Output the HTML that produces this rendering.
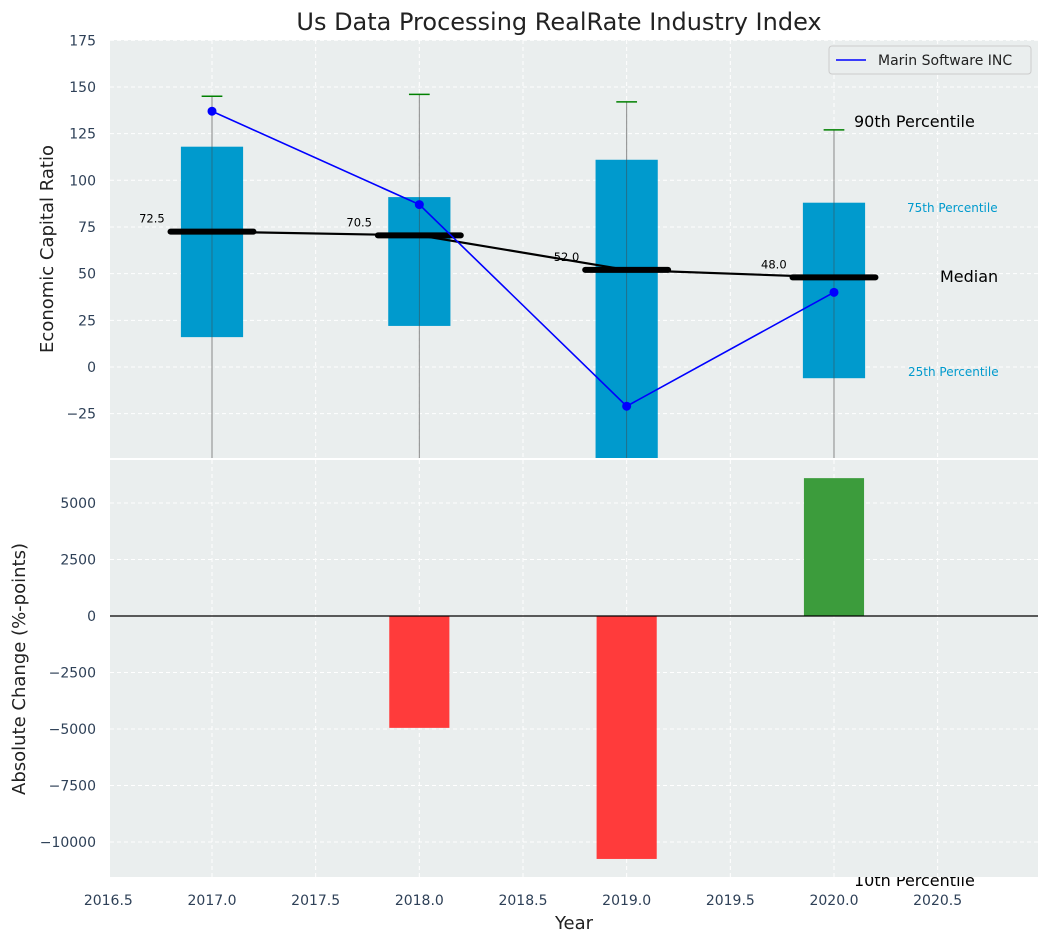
<!DOCTYPE html>
<html><head><meta charset="utf-8"><style>
html,body{margin:0;padding:0;background:#fff;}
svg{display:block;font-family:"DejaVu Sans","Liberation Sans",sans-serif;}
</style></head><body>
<svg id="c" width="1048" height="942"></svg>
<script>
const years=[2017,2018,2019,2020];
const p10=[-60,-60,-60,-60];
const p25=[16,22,-55,-6];
const p75=[118,91,111,88];
const p90=[145,146,142,127];
const medians=[72.5,70.5,52.0,48.0];
const company=[137,87,-21,40];
const changes=[0,-4950,-10750,6100];
const xTicks=[2016.5,2017.0,2017.5,2018.0,2018.5,2019.0,2019.5,2020.0,2020.5];
const yTopTicks=[-25,0,25,50,75,100,125,150,175];
const yBotTicks=[-10000,-7500,-5000,-2500,0,2500,5000];

const NS='http://www.w3.org/2000/svg';
const svg=document.getElementById('c');
function el(t,a,p){const e=document.createElementNS(NS,t);for(const k in a)e.setAttribute(k,a[k]);(p||svg).appendChild(e);return e;}
const L=110,R=1038,T1=40,B1=458,T2=460,B2=877;
const X=v=>212+(v-2017)*207.33;
const Y1=v=>367-v*1.867;
const Y2=v=>616-v*0.0226;

let t=el('text',{x:559,y:30,'text-anchor':'middle','font-size':24,fill:'#222'});t.textContent='Us Data Processing RealRate Industry Index';


t=el('text',{x:854,y:886,'font-size':16,fill:'#000'});t.textContent='10th Percentile';


let g1=el('g',{});
el('rect',{x:L,y:T1,width:R-L,height:B1-T1,fill:'#eaeeee'},g1);
let cpth=el('clipPath',{id:'cp1'},g1);
el('rect',{x:L,y:T1,width:R-L,height:B1-T1},cpth);
xTicks.forEach(v=>el('line',{x1:X(v),x2:X(v),y1:T1,y2:B1,stroke:'#fff','stroke-dasharray':'4,3','stroke-width':1},g1));
yTopTicks.forEach(v=>{el('line',{x1:L,x2:R,y1:Y1(v),y2:Y1(v),stroke:'#fff','stroke-dasharray':'4,3'},g1);
 let tt=el('text',{x:L-14,y:Y1(v)+5,'text-anchor':'end','font-size':14,fill:'#2e4057'},g1);tt.textContent=v<0?'\u2212'+(-v):v;});
let cg=el('g',{'clip-path':'url(#cp1)'},g1);
years.forEach((yr,i)=>{
 let w=el('line',{x1:X(yr),x2:X(yr),y1:Y1(p10[i]),y2:Y1(p90[i]),stroke:'#888','stroke-width':1},cg);
 
 let cap=el('line',{x1:X(yr-0.05),x2:X(yr+0.05),y1:Y1(p90[i]),y2:Y1(p90[i]),stroke:'green','stroke-width':1.5},cg);
 
 let b=el('rect',{x:X(yr-0.15),width:X(yr+0.15)-X(yr-0.15),y:Y1(p75[i]),height:Y1(p25[i])-Y1(p75[i]),fill:'#009acd'},cg);
 
 el('line',{x1:X(yr),x2:X(yr),y1:Y1(p75[i]),y2:Y1(Math.max(p25[i],-49)),stroke:'#444','stroke-width':0.8,opacity:0.6},cg);
});
let mp=years.map((yr,i)=>X(yr)+','+Y1(medians[i])).join(' ');
let ml=el('polyline',{points:mp,fill:'none',stroke:'#000','stroke-width':2.2},cg);

years.forEach((yr,i)=>{
 let m=el('line',{x1:X(yr-0.2),x2:X(yr+0.2),y1:Y1(medians[i]),y2:Y1(medians[i]),stroke:'#000','stroke-width':6,'stroke-linecap':'round'},cg);
 
 let tx=el('text',{x:X(yr-0.29),y:Y1(medians[i])-9,'text-anchor':'middle','font-size':11.5,fill:'#000'},cg);tx.textContent=medians[i].toFixed(1);
});
let cp=years.map((yr,i)=>X(yr)+','+Y1(company[i])).join(' ');
let cl=el('polyline',{points:cp,fill:'none',stroke:'#0000ff','stroke-width':1.6},cg);

years.forEach((yr,i)=>{let c=el('circle',{cx:X(yr),cy:Y1(company[i]),r:4.5,fill:'#0000ff'},cg);
 });
[['90th Percentile',854,127,16,'#000'],['75th Percentile',907,212,12,'#009acd'],['Median',940,282,16,'#000'],['25th Percentile',908,376,12,'#009acd']].forEach(a=>{
 let tx=el('text',{x:a[1],y:a[2],'font-size':a[3],fill:a[4]},g1);tx.textContent=a[0];});
let lg=el('g',{});
el('rect',{x:829,y:46,width:202,height:28,rx:3,fill:'#eaeeee',stroke:'#ccc'},lg);
el('line',{x1:836,x2:866,y1:60,y2:60,stroke:'#0000ff','stroke-width':1.6},lg);
t=el('text',{x:878,y:65,'font-size':14,fill:'#222'},lg);t.textContent='Marin Software INC';
t=el('text',{x:53,y:249,'font-size':18,fill:'#222','text-anchor':'middle',transform:'rotate(-90 53 249)'});t.textContent='Economic Capital Ratio';

let g2=el('g',{});
el('rect',{x:L,y:T2,width:R-L,height:B2-T2,fill:'#eaeeee'},g2);
xTicks.forEach(v=>el('line',{x1:X(v),x2:X(v),y1:T2,y2:B2,stroke:'#fff','stroke-dasharray':'4,3'},g2));
yBotTicks.forEach(v=>{el('line',{x1:L,x2:R,y1:Y2(v),y2:Y2(v),stroke:'#fff','stroke-dasharray':'4,3'},g2);
 let tt=el('text',{x:L-14,y:Y2(v)+5,'text-anchor':'end','font-size':14,fill:'#2e4057'},g2);tt.textContent=v<0?'\u2212'+(-v):v;});
years.forEach((yr,i)=>{if(!changes[i])return;
 let v=changes[i];let b=el('rect',{x:X(yr-0.145),width:X(yr+0.145)-X(yr-0.145),y:Math.min(Y2(0),Y2(v)),height:Math.abs(Y2(v)-Y2(0)),fill:v<0?'#ff3b3b':'#3c9c3c'},g2);
 });
el('line',{x1:L,x2:R,y1:Y2(0),y2:Y2(0),stroke:'#000','stroke-width':1.2},g2);
xTicks.forEach(v=>{let tt=el('text',{x:X(v),y:B2+28,'text-anchor':'middle','font-size':14,fill:'#2e4057'});tt.textContent=v.toFixed(1);});
t=el('text',{x:574,y:929,'font-size':18,fill:'#222','text-anchor':'middle'});t.textContent='Year';
t=el('text',{x:25,y:669,'font-size':18,fill:'#222','text-anchor':'middle',transform:'rotate(-90 25 669)'});t.textContent='Absolute Change (%-points)';
</script>
</body></html>
